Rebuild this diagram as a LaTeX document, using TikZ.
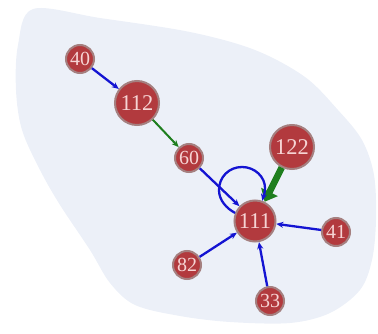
\documentclass[tikz,border=0pt]{standalone}
\usepackage{fontspec}
\setmainfont{Liberation Serif}
\usetikzlibrary{arrows.meta}
\definecolor{blobfill}{HTML}{ECF0F8}
\definecolor{nodered}{HTML}{B23A3E}
\definecolor{noderim}{HTML}{A58080}
\definecolor{nodetext}{HTML}{F6D4D4}
\definecolor{linkblue}{HTML}{1414D2}
\definecolor{linkgreen}{HTML}{1E7E1E}
\tikzset{
  vert/.style={circle, fill=nodered, draw=noderim, line width=2pt,
    text=nodetext, inner sep=0pt, minimum size=#1},
  small/.style={vert=28pt, font=\fontsize{20}{20}\selectfont},
  big/.style={vert=44pt, font=\fontsize{22.5}{22.5}\selectfont},
  mid/.style={vert=41pt, font=\fontsize{22.5}{22.5}\selectfont},
  bluelink/.style={draw=linkblue, line width=2.3pt,
    -{Stealth[length=7pt,width=6pt]}},
  greenlink/.style={draw=linkgreen, line width=2pt,
    -{Stealth[length=7pt,width=6pt]}},
  heavylink/.style={draw=linkgreen, line width=6.5pt,
    -{Triangle[length=11pt,width=18pt]}},
}
\begin{document}
\begin{tikzpicture}[x=1pt,y=-1pt]
  \useasboundingbox (0,0) rectangle (378,334);
  % cluster background
  \fill[blobfill] plot[smooth cycle, tension=0.55] coordinates {
    (33,9) (100,18) (190,32) (255,50) (305,77) (338,110) (362,140)
    (374,175) (376,220) (372,260) (360,290) (330,313) (290,323)
    (230,322) (180,316) (135,305) (110,283) (90,250) (60,205)
    (40,170) (22,130) (16,90) (18,45)};
  % vertices
  \node[small] (n40)  at (80,59)   {40};
  \node[big]   (n112) at (137,103) {112};
  \node[small] (n60)  at (189,158) {60};
  \node[big]   (n122) at (292,147) {122};
  \node[mid]   (n111) at (255,221) {111};
  \node[small] (n41)  at (336,232) {41};
  \node[small] (n82)  at (187,265) {82};
  \node[small] (n33)  at (270,301) {33};
  % links
  \draw[bluelink]  (n40) -- (n112);
  \draw[greenlink] (n112) -- (n60);
  \draw[bluelink]  (n60) -- (n111);
  \draw[heavylink] (n122) -- (n111);
  \draw[bluelink]  (n41) -- (n111);
  \draw[bluelink]  (n82) -- (n111);
  \draw[bluelink]  (n33) -- (n111);
  % self loop on 111: a round loop above-left of the vertex
  \coordinate (loopL) at (219,190);
  \coordinate (loopT) at (242,167);
  \coordinate (loopR) at (265,188);
  \draw[bluelink] (n111.158) .. controls (226,208) and (219,200) .. (loopL)
    .. controls (219,177) and (229,167) .. (loopT)
    .. controls (255,167) and (265,177) .. (loopR)
    .. controls (265,193) and (263.5,196) .. (n111.70);
\end{tikzpicture}
\end{document}
